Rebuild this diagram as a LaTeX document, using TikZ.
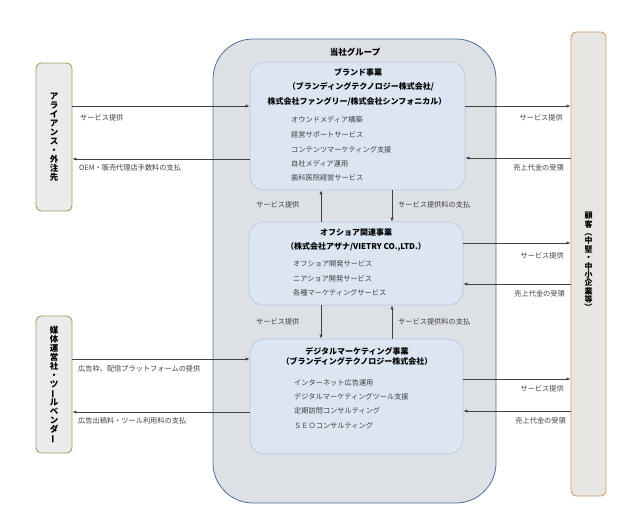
\documentclass[tikz,border=0pt]{standalone}
\usepackage{fontspec}
\setmainfont{Noto Sans CJK JP}
\usetikzlibrary{arrows.meta}
\definecolor{grpfill}{HTML}{DDE0E5}
\definecolor{grpline}{HTML}{4F6F9F}
\definecolor{boxfill}{HTML}{DCE6F2}
\definecolor{boxline}{HTML}{B9C9DD}
\definecolor{leftfill}{HTML}{EBEBEB}
\definecolor{leftline}{HTML}{8FA660}
\definecolor{custfill}{HTML}{E8E6E3}
\definecolor{custline}{HTML}{D29A6A}
\definecolor{txt}{HTML}{404040}
\newcommand{\vbar}{\rotatebox[origin=c]{90}{ー}}
\newcommand{\vlp}{\rotatebox[origin=c]{-90}{（}}
\newcommand{\vrp}{\rotatebox[origin=c]{-90}{）}}
\tikzset{
  grpbox/.style={draw=grpline, fill=grpfill, line width=0.8pt, rounded corners=40pt, inner sep=0pt},
  bizbox/.style={draw=boxline, fill=boxfill, line width=0.7pt, rounded corners=15pt, inner sep=0pt},
  allybox/.style={draw=leftline, fill=leftfill, line width=0.9pt, rounded corners=5pt, inner sep=0pt},
  custbox/.style={draw=custline, fill=custfill, line width=0.9pt, rounded corners=5pt, inner sep=0pt},
  vtext/.style={align=center, inner sep=0pt, font=\bfseries\fontsize{8.5}{9}\selectfont},
  title/.style={inner sep=0pt, font=\bfseries\fontsize{8}{9}\selectfont},
  item/.style={inner sep=0pt, anchor=west, text=txt, font=\fontsize{7.2}{8}\selectfont},
  lbl/.style={inner sep=0pt, text=txt, font=\fontsize{7.2}{8}\selectfont},
  arr/.style={draw=txt, line width=0.6pt, -{Latex[length=4pt,width=3.2pt]}},
}
\begin{document}
\begin{tikzpicture}[x=1pt,y=-1pt]
\useasboundingbox (0,0) rectangle (642,517);
% group
\node[grpbox, minimum width=283pt, minimum height=464pt] (grp) at (354.5,271) {};
\node[title, font=\bfseries\fontsize{8.5}{9}\selectfont] (grpt) at (355,52) {当社グループ};
% business boxes
\node[bizbox, minimum width=215pt, minimum height=128pt] (brand) at (357.5,126) {};
\node[bizbox, minimum width=214pt, minimum height=83pt] (off) at (356,263.5) {};
\node[bizbox, minimum width=213pt, minimum height=115pt] (dig) at (356.5,396.5) {};
% outside parties
\node[allybox, minimum width=36pt, minimum height=148pt] (ally) at (54,137) {};
\node[allybox, minimum width=36pt, minimum height=137pt] (media) at (54,384.5) {};
\node[custbox, minimum width=35pt, minimum height=464pt] (cust) at (588.5,264) {};
\node[vtext] (allyt) at (54,137) {ア\\ラ\\イ\\ア\\ン\\ス\\・\\外\\注\\先};
\node[vtext] (mediat) at (54,385) {媒\\体\\運\\営\\社\\・\\ツ\\\vbar\\ル\\ベ\\ン\\ダ\\\vbar};
\node[vtext, font=\bfseries\fontsize{8}{8.4}\selectfont] (custt) at (588.5,262) {顧\\客\\\vlp\\中\\堅\\・\\中\\小\\企\\業\\等\\\vrp};
% brand texts
\node[title] (bt1) at (358,72) {ブランド事業};
\node[title] (bt2) at (361,87) {（ブランディングテクノロジー株式会社/};
\node[title] (bt3) at (357,102) {株式会社ファングリー/株式会社シンフォニカル）};
\node[item] (bi1) at (291,120) {オウンドメディア構築};
\node[item] (bi2) at (291,135) {経営サポートサービス};
\node[item] (bi3) at (291,149.5) {コンテンツマーケティング支援};
\node[item] (bi4) at (291,164) {自社メディア運用};
\node[item] (bi5) at (291,178) {歯科医院経営サービス};
% offshore texts
\node[title] (ot1) at (356,232) {オフショア関連事業};
\node[title] (ot2) at (356,247) {（株式会社アザナ/VIETRY CO.,LTD.）};
\node[item] (oi1) at (293,264) {オフショア開発サービス};
\node[item] (oi2) at (293,279) {ニアショア開発サービス};
\node[item] (oi3) at (293,293) {各種マーケティングサービス};
% digital texts
\node[title] (dt1) at (357,351) {デジタルマーケティング事業};
\node[title] (dt2) at (357,361.5) {（ブランディングテクノロジー株式会社）};
\node[item] (di1) at (294,383) {インターネット広告運用};
\node[item] (di2) at (294,397) {デジタルマーケティングツール支援};
\node[item] (di3) at (294,411) {定期訪問コンサルティング};
\node[item] (di4) at (294,426) {ＳＥＯコンサルティング};
% left connectors
\draw[arr] (ally.east |- 0,106) -- (brand.west |- 0,106);
\node[lbl, anchor=west] (l1) at (80,118) {サービス提供};
\draw[arr] (brand.west |- 0,159) -- (ally.east |- 0,159);
\node[lbl, anchor=west] (l2) at (79,168) {OEM・販売代理店手数料の支払};
\draw[arr] (media.east |- 0,359) -- (dig.west |- 0,359);
\node[lbl, anchor=west] (l3) at (78,369) {広告枠、配信プラットフォームの提供};
\draw[arr] (dig.west |- 0,412) -- (media.east |- 0,412);
\node[lbl, anchor=west] (l4) at (78,421) {広告出稿料・ツール利用料の支払};
% right connectors
\draw[arr] (brand.east |- 0,106) -- (cust.west |- 0,106);
\node[lbl, anchor=east] (r1) at (563,118) {サービス提供};
\draw[arr] (cust.west |- 0,158) -- (brand.east |- 0,158);
\node[lbl, anchor=east] (r2) at (564,168) {売上代金の受領};
\draw[arr] (off.east |- 0,243) -- (cust.west |- 0,243);
\node[lbl, anchor=east] (r3) at (564,256) {サービス提供};
\draw[arr] (cust.west |- 0,284) -- (off.east |- 0,284);
\node[lbl, anchor=east] (r4) at (565,294) {売上代金の受領};
\draw[arr] (dig.east |- 0,379) -- (cust.west |- 0,379);
\node[lbl, anchor=east] (r5) at (564,389) {サービス提供};
\draw[arr] (cust.west |- 0,411) -- (dig.east |- 0,411);
\node[lbl, anchor=east] (r6) at (566,421) {売上代金の受領};
% vertical connectors
\draw[arr] (off.north -| 321,0) -- (brand.south -| 321,0);
\draw[arr] (brand.south -| 392,0) -- (off.north -| 392,0);
\node[lbl, anchor=west] (v1) at (256,205) {サービス提供};
\node[lbl, anchor=west] (v2) at (398,205) {サービス提供料の支払};
\draw[arr] (off.south -| 321,0) -- (dig.north -| 321,0);
\draw[arr] (dig.north -| 392,0) -- (off.south -| 392,0);
\node[lbl, anchor=west] (v3) at (256,322) {サービス提供};
\node[lbl, anchor=west] (v4) at (398,322) {サービス提供料の支払};
\end{tikzpicture}
\end{document}
